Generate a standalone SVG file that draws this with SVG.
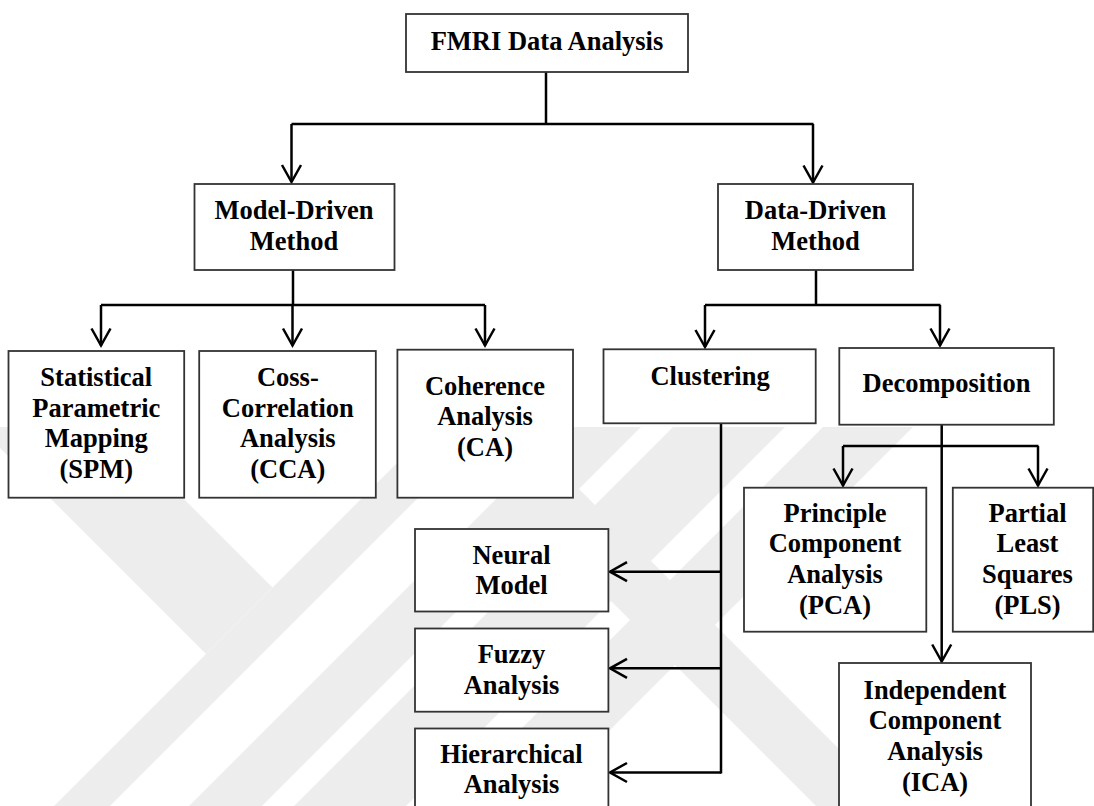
<svg xmlns="http://www.w3.org/2000/svg" width="1094" height="806" viewBox="0 0 1094 806">
<style>
.box{fill:#fff;stroke:#333;stroke-width:1.8}
.t{font-family:"Liberation Serif","Times New Roman",serif;font-weight:bold;font-size:26.5px;text-anchor:middle;fill:#000}
.c{fill:none;stroke:#000;stroke-width:2.5}
.a{marker-end:url(#arr)}
.wm{fill:#ededed}
</style>
<defs>
<marker id="arr" markerUnits="userSpaceOnUse" viewBox="-20 -12 22 24" refX="0" refY="0" markerWidth="22" markerHeight="24" orient="auto" overflow="visible">
<path d="M-17,-9.5 L0,0 L-17,9.5" fill="none" stroke="#000" stroke-width="2.5"/>
</marker>
</defs>
<rect width="1094" height="806" fill="#fff"/>
<g id="watermark">
<polygon class="wm" points="-21,427 112,427 272.5,587.5 206,654"/>
<polygon class="wm" points="433,427 489,427 110,806 54,806"/>
<polygon class="wm" points="568,427 641,427 262,806 189,806"/>
<polygon class="wm" points="673,427 785,427 406,806 294,806"/>
<polygon class="wm" points="823,427 913,427 534,806 444,806"/>
<polygon class="wm" points="437,427 517,427 896,806 816,806"/>
</g>
<g id="connectors">
<path class="c" d="M546,72 V124 M291.5,124 H813.5 M293,270 V305 M101,305 H485 M816,270 V305 M705,305 H940.5 M721,423 V773.5 M941.7,425 V446 M843,446 H1038.5"/>
<path class="c a" d="M291.5,124 V182"/>
<path class="c a" d="M813,124 V182.5"/>
<path class="c a" d="M101,305 V345.5"/>
<path class="c a" d="M292.5,305 V345.5"/>
<path class="c a" d="M485,305 V345.5"/>
<path class="c a" d="M705,305 V347"/>
<path class="c a" d="M940,305 V345.5"/>
<path class="c a" d="M721,571.7 H610"/>
<path class="c a" d="M721,668.3 H610"/>
<path class="c a" d="M721,772.5 H610"/>
<path class="c a" d="M843,446 V485.5"/>
<path class="c a" d="M1038,446 V485.5"/>
<path class="c a" d="M941.7,446 V661.5"/>
</g>
<g id="n-fmri"><rect class="box" x="406" y="14" width="282" height="58"/><text class="t" x="547" y="49.5">FMRI Data Analysis</text></g>
<g id="n-model"><rect class="box" x="194.5" y="184" width="200" height="86"/><text class="t" x="294" y="219">Model-Driven</text><text class="t" x="294" y="250">Method</text></g>
<g id="n-data"><rect class="box" x="718" y="184" width="195" height="86"/><text class="t" x="815.5" y="219">Data-Driven</text><text class="t" x="815.5" y="250">Method</text></g>
<g id="n-spm"><rect class="box" x="8.5" y="351" width="175.7" height="146.7"/><text class="t" x="96.3" y="385.5">Statistical</text><text class="t" x="96.3" y="416.5">Parametric</text><text class="t" x="96.3" y="447">Mapping</text><text class="t" x="96.3" y="477.5">(SPM)</text></g>
<g id="n-cca"><rect class="box" x="199.2" y="351" width="176.6" height="146.7"/><text class="t" x="287.8" y="385.5">Coss-</text><text class="t" x="287.8" y="416.5">Correlation</text><text class="t" x="287.8" y="447">Analysis</text><text class="t" x="287.8" y="477.5">(CCA)</text></g>
<g id="n-ca"><rect class="box" x="397.4" y="349.7" width="175.6" height="148"/><text class="t" x="485" y="394.5">Coherence</text><text class="t" x="485" y="425">Analysis</text><text class="t" x="485" y="455.5">(CA)</text></g>
<g id="n-clustering"><rect class="box" x="603.5" y="349.3" width="212.2" height="74"/><text class="t" x="710" y="385">Clustering</text></g>
<g id="n-decomposition"><rect class="box" x="839.3" y="348" width="214.5" height="76.7"/><text class="t" x="946.5" y="391.7">Decomposition</text></g>
<g id="n-neural"><rect class="box" x="415" y="529" width="193.4" height="82.5"/><text class="t" x="511.5" y="563.5">Neural</text><text class="t" x="511.5" y="594">Model</text></g>
<g id="n-fuzzy"><rect class="box" x="415" y="628.5" width="193.4" height="83.2"/><text class="t" x="511.5" y="663">Fuzzy</text><text class="t" x="511.5" y="693.5">Analysis</text></g>
<g id="n-hier"><rect class="box" x="415" y="728.5" width="193.4" height="90"/><text class="t" x="511.5" y="763">Hierarchical</text><text class="t" x="511.5" y="793">Analysis</text></g>
<g id="n-pca"><rect class="box" x="744" y="487.7" width="182.3" height="144"/><text class="t" x="835" y="521.7">Principle</text><text class="t" x="835" y="552.3">Component</text><text class="t" x="835" y="583.3">Analysis</text><text class="t" x="835" y="613.6">(PCA)</text></g>
<g id="n-pls"><rect class="box" x="952.8" y="487.7" width="140.4" height="144"/><text class="t" x="1027.5" y="521.7">Partial</text><text class="t" x="1027.5" y="552.3">Least</text><text class="t" x="1027.5" y="583.3">Squares</text><text class="t" x="1027.5" y="613.6">(PLS)</text></g>
<g id="n-ica"><rect class="box" x="839" y="663" width="192" height="155"/><text class="t" x="935" y="698.5">Independent</text><text class="t" x="935" y="729">Component</text><text class="t" x="935" y="759.5">Analysis</text><text class="t" x="935" y="790.5">(ICA)</text></g>
</svg>
